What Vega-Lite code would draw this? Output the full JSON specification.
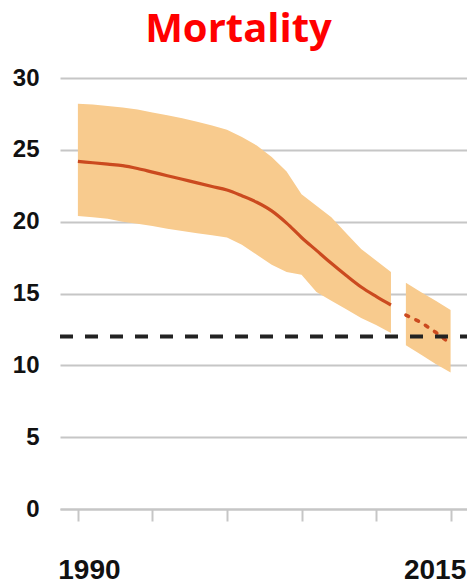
{
  "$schema": "https://vega.github.io/schema/vega-lite/v6.json",
  "autosize": "none",
  "width": 407,
  "height": 431,
  "padding": {"left": 60, "top": 78, "right": 0, "bottom": 76},
  "background": "white",
  "title": {
    "text": "Mortality",
    "color": "#FF0000",
    "font": "Open Sans",
    "fontWeight": "bold",
    "fontSize": 40,
    "anchor": "middle",
    "dx": -25,
    "dy": 48,
    "baseline": "bottom",
    "offset": 24
  },
  "config": {
    "view": {"stroke": null}
  },
  "datasets": {
    "series": [
      {"year": 1990, "est": 24.2, "lo": 20.4, "hi": 28.2, "seg": "a"},
      {"year": 1991, "est": 24.1, "lo": 20.3, "hi": 28.15, "seg": "a"},
      {"year": 1992, "est": 24.0, "lo": 20.2, "hi": 28.05, "seg": "a"},
      {"year": 1993, "est": 23.9, "lo": 20.0, "hi": 27.95, "seg": "a"},
      {"year": 1994, "est": 23.7, "lo": 19.85, "hi": 27.8, "seg": "a"},
      {"year": 1995, "est": 23.45, "lo": 19.7, "hi": 27.6, "seg": "a"},
      {"year": 1996, "est": 23.2, "lo": 19.5, "hi": 27.4, "seg": "a"},
      {"year": 1997, "est": 22.95, "lo": 19.35, "hi": 27.2, "seg": "a"},
      {"year": 1998, "est": 22.7, "lo": 19.2, "hi": 26.95, "seg": "a"},
      {"year": 1999, "est": 22.45, "lo": 19.05, "hi": 26.7, "seg": "a"},
      {"year": 2000, "est": 22.2, "lo": 18.9, "hi": 26.4, "seg": "a"},
      {"year": 2001, "est": 21.8, "lo": 18.4, "hi": 25.9, "seg": "a"},
      {"year": 2002, "est": 21.35, "lo": 17.7, "hi": 25.3, "seg": "a"},
      {"year": 2003, "est": 20.75, "lo": 17.0, "hi": 24.5, "seg": "a"},
      {"year": 2004, "est": 19.9, "lo": 16.5, "hi": 23.5, "seg": "a"},
      {"year": 2005, "est": 18.9, "lo": 16.3, "hi": 21.9, "seg": "a"},
      {"year": 2006, "est": 18.0, "lo": 15.1, "hi": 21.1, "seg": "a"},
      {"year": 2007, "est": 17.1, "lo": 14.5, "hi": 20.3, "seg": "a"},
      {"year": 2008, "est": 16.25, "lo": 13.9, "hi": 19.2, "seg": "a"},
      {"year": 2009, "est": 15.45, "lo": 13.3, "hi": 18.1, "seg": "a"},
      {"year": 2010, "est": 14.8, "lo": 12.8, "hi": 17.3, "seg": "a"},
      {"year": 2011, "est": 14.2, "lo": 12.25, "hi": 16.5, "seg": "a"},
      {"year": 2012, "est": 13.5, "lo": 11.4, "hi": 15.75, "seg": "b"},
      {"year": 2013, "est": 13.0, "lo": 10.75, "hi": 15.1, "seg": "b"},
      {"year": 2014, "est": 12.3, "lo": 10.1, "hi": 14.5, "seg": "b"},
      {"year": 2015, "est": 11.5, "lo": 9.5, "hi": 13.85, "seg": "b"}
    ],
    "target": [{"value": 12}]
  },
  "encoding": {
    "x": {
      "field": "year",
      "type": "quantitative",
      "scale": {"domain": [1988.8, 2016.1], "nice": false, "zero": false},
      "axis": {
        "title": null,
        "values": [1990, 1995, 2000, 2005, 2010, 2015],
        "format": "d",
        "labelExpr": "datum.value == 1990 || datum.value == 2015 ? datum.label : ''",
        "grid": false,
        "domain": true,
        "domainColor": "#c6c6c6",
        "domainWidth": 2,
        "ticks": true,
        "tickColor": "#c6c6c6",
        "tickWidth": 2,
        "tickSize": 12,
        "labelFont": "Liberation Sans",
        "labelFontWeight": "bold",
        "labelFontSize": 28,
        "labelColor": "#111111",
        "labelPadding": 35,
        "labelOffset": {"condition": {"test": "datum.value == 2015", "value": -16}, "value": 11}
      }
    }
  },
  "layer": [
    {
      "data": {"name": "series"},
      "mark": {"type": "area", "color": "#F8CB8E", "opacity": 1},
      "encoding": {
        "y": {
          "field": "lo",
          "type": "quantitative",
          "scale": {"domain": [0, 30], "nice": false},
          "axis": {
            "title": null,
            "values": [0, 5, 10, 15, 20, 25, 30],
            "grid": true,
            "gridColor": "#c6c6c6",
            "gridWidth": 2,
            "domain": false,
            "ticks": false,
            "labelFont": "Liberation Sans",
            "labelFontWeight": "bold",
            "labelFontSize": 24,
            "labelColor": "#111111",
            "labelPadding": 21
          }
        },
        "y2": {"field": "hi"},
        "detail": {"field": "seg", "type": "nominal"}
      }
    },
    {
      "data": {"name": "series"},
      "transform": [{"filter": "datum.seg == 'a'"}],
      "mark": {"type": "line", "color": "#CB4A1F", "strokeWidth": 3.2, "interpolate": "monotone"},
      "encoding": {
        "y": {"field": "est", "type": "quantitative"}
      }
    },
    {
      "data": {"name": "series"},
      "transform": [{"filter": "datum.seg == 'b'"}],
      "mark": {"type": "line", "color": "#CB4A1F", "strokeWidth": 3.5, "strokeDash": [3, 8], "strokeCap": "round"},
      "encoding": {
        "y": {"field": "est", "type": "quantitative"}
      }
    },
    {
      "data": {"name": "target"},
      "mark": {"type": "rule", "color": "#222222", "strokeWidth": 4, "strokeDash": [13, 12]},
      "encoding": {
        "y": {"field": "value", "type": "quantitative"},
        "x": {"value": 0},
        "x2": {"value": 407}
      }
    }
  ]
}
